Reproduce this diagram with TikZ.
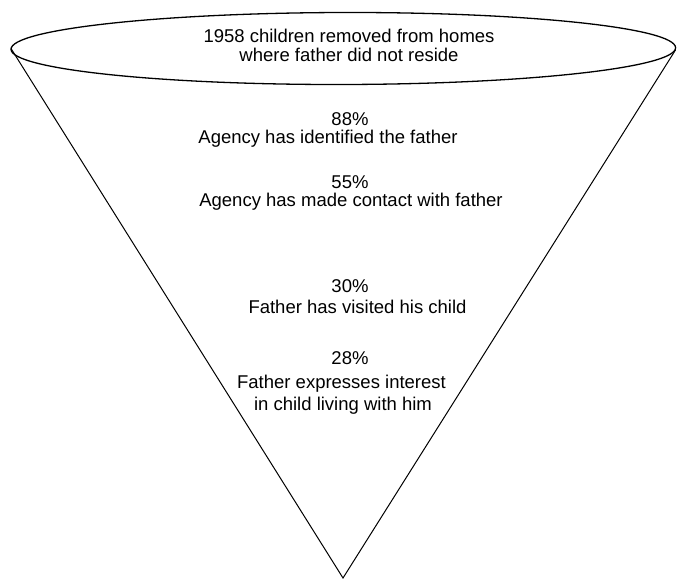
\documentclass[tikz,border=0pt]{standalone}
\usepackage{fontspec}
\setmainfont{Liberation Sans}
\begin{document}
\begin{tikzpicture}[x=1pt,y=-1pt,
  lbl/.style={anchor=base, inner sep=0pt, font=\fontsize{18.5}{21}\selectfont},
  rim/.style={line width=1.3pt},
  side/.style={line width=1pt}]
\useasboundingbox (0,0) rectangle (677,578);
\coordinate (L) at (11,48.5);
\coordinate (R) at (675.5,50);
\coordinate (A) at (343,578);
\draw[side] (L) -- (A) -- (R);
\draw[rim, rotate around={0.13:(343.3,48.5)}] (343.3,48.5) ellipse [x radius=332.3, y radius=36];
\node[lbl] (t1) at (349,43) {1958 children removed from homes};
\node[lbl] (t2) at (349,62) {where father did not reside};
\node[lbl] (p1) at (350,125) {88\%};
\node[lbl] (s1) at (328,143) {Agency has identified the father};
\node[lbl] (p2) at (350,188) {55\%};
\node[lbl] (s2) at (351,206) {Agency has made contact with father};
\node[lbl] (p3) at (350,292) {30\%};
\node[lbl] (s3) at (357.5,313) {Father has visited his child};
\node[lbl] (p4) at (350,364) {28\%};
\node[lbl] (s4) at (341.5,388) {Father expresses interest};
\node[lbl] (s5) at (343,410) {in child living with him};
\end{tikzpicture}
\end{document}
